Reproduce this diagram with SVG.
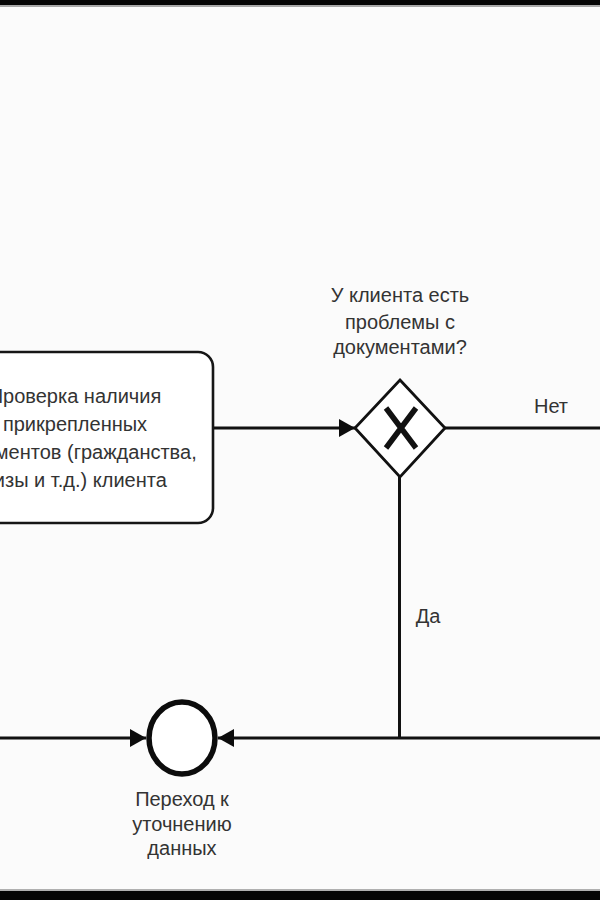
<svg xmlns="http://www.w3.org/2000/svg" width="600" height="900" viewBox="0 0 600 900">
  <defs>
    <style>
      .bg { fill: #fbfbfb; }
      .bar { fill: #050505; }
      .edge { fill: none; stroke: #111; stroke-width: 3; }
      .task { fill: #ffffff; stroke: #161616; stroke-width: 2.6; }
      .gw { fill: #ffffff; stroke: #111; stroke-width: 2.8; }
      .gwx { fill: none; stroke: #111; stroke-width: 5.5; stroke-linecap: butt; }
      .ev { fill: #ffffff; stroke: #0c0c0c; stroke-width: 5.5; }
      .lbl { font-family: "Liberation Sans", Arial, sans-serif; font-size: 20px; fill: #333333; text-anchor: middle; }
    </style>
    <marker id="arrow" viewBox="0 0 16 18" refX="16" refY="9" markerWidth="16" markerHeight="18" markerUnits="userSpaceOnUse" orient="auto">
      <path d="M0,0 L16,9 L0,18 Z" fill="#0c0c0c"/>
    </marker>
  </defs>

  <rect class="bg" x="0" y="0" width="600" height="900"/>
  <rect class="bar" x="0" y="0" width="600" height="5"/>
  <rect x="0" y="5" width="600" height="2" fill="#a8a8a8"/>
  <rect x="0" y="889" width="600" height="2" fill="#b0b0b0"/>
  <rect class="bar" x="0" y="891" width="600" height="9"/>

  <g id="connectors">
    <path class="edge" d="M213,428 H355" marker-end="url(#arrow)"/>
    <path class="edge" d="M445,428 H600"/>
    <path class="edge" d="M399.5,477 V738"/>
    <path class="edge" d="M600,738 H218" marker-end="url(#arrow)"/>
    <path class="edge" d="M0,738 H146" marker-end="url(#arrow)"/>
    <text class="lbl" x="551" y="413">Нет</text>
    <text class="lbl" x="428" y="623">Да</text>
  </g>

  <g id="task-check-documents">
    <rect class="task" x="-70" y="352" width="283" height="171" rx="15" ry="15"/>
    <text class="lbl" x="75" y="403">Проверка наличия</text>
    <text class="lbl" x="75" y="431">прикрепленных</text>
    <text class="lbl" x="75" y="459">документов (гражданства,</text>
    <text class="lbl" x="75" y="487">визы и т.д.) клиента</text>
  </g>

  <g id="gateway-documents-problem">
    <path class="gw" d="M400,380 L445,428 L400,477 L355,428 Z"/>
    <path class="gwx" d="M386,408 L416,448 M416,408 L386,448"/>
    <text class="lbl" x="400" y="302">У клиента есть</text>
    <text class="lbl" x="400" y="329">проблемы с</text>
    <text class="lbl" x="400" y="354">документами?</text>
  </g>

  <g id="event-clarify-data">
    <ellipse class="ev" cx="182" cy="738" rx="33" ry="36"/>
    <text class="lbl" x="182" y="806">Переход к</text>
    <text class="lbl" x="182" y="831">уточнению</text>
    <text class="lbl" x="182" y="855">данных</text>
  </g>
</svg>
